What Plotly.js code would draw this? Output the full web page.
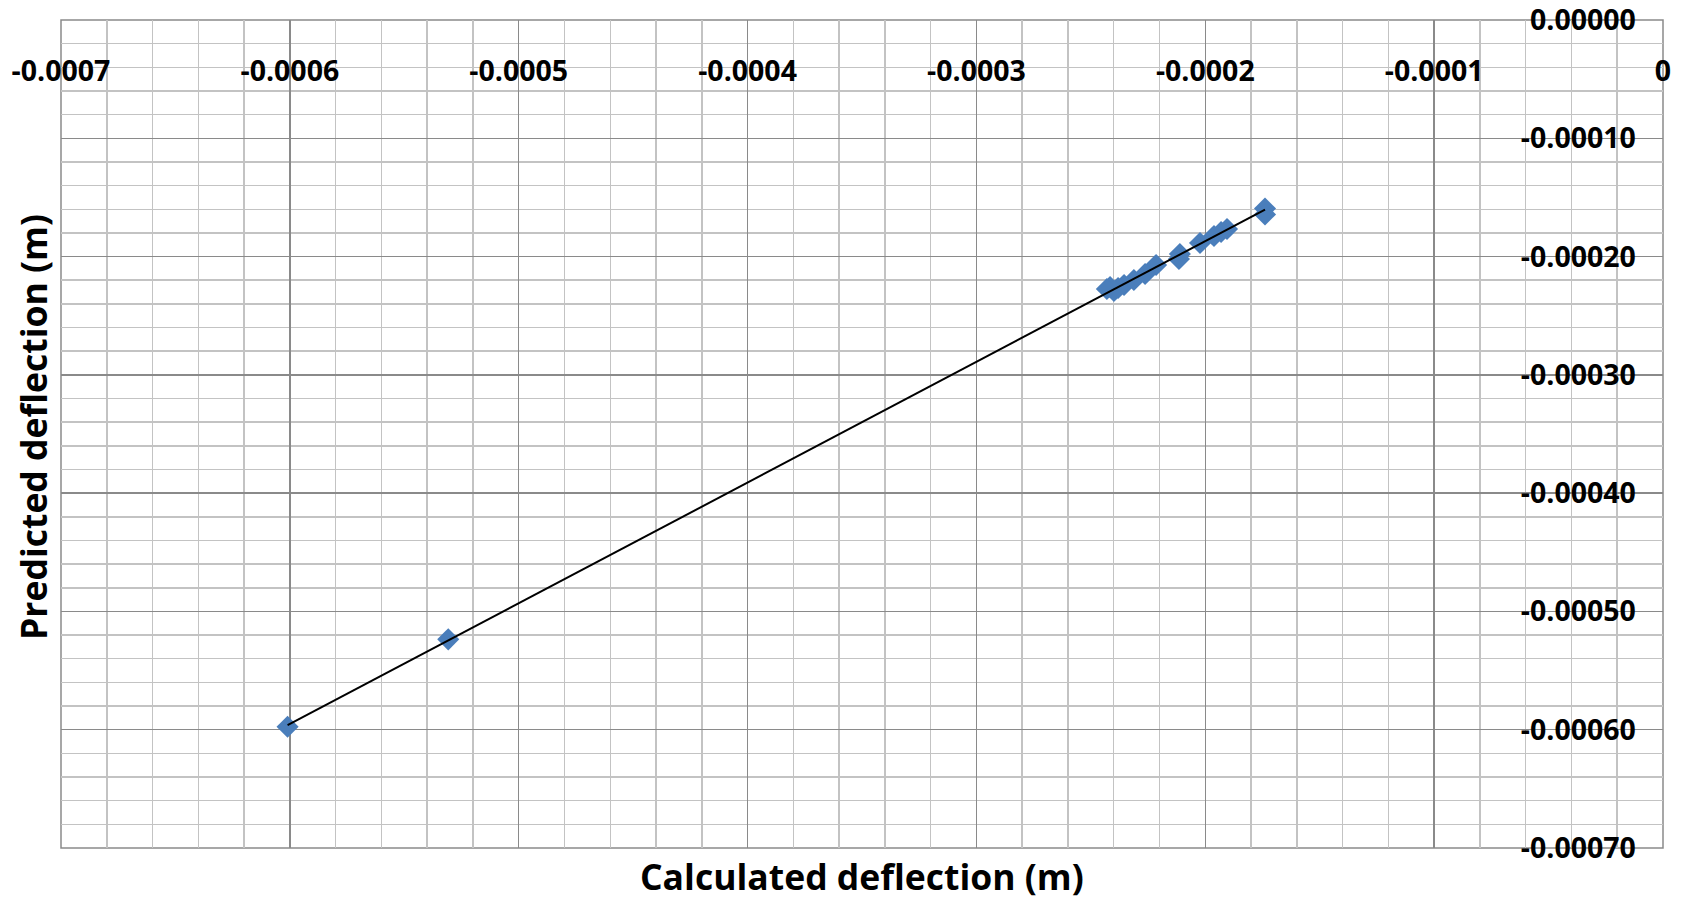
<!DOCTYPE html>
<html>
<head>
<meta charset="utf-8">
<script src="https://cdn.plot.ly/plotly-3.0.1.min.js"></script>
<style>html,body{margin:0;padding:0;background:#fff;}#chart{width:1686px;height:902px;}</style>
</head>
<body>
<div id="chart"></div>
<script>
// Calculated deflection (m) and predicted deflection (m)
const calculated = [-0.0001739, -0.0001739, -0.0001905, -0.0001931, -0.0001962, -0.0002023, -0.0002111, -0.0002115,
  -0.0002215, -0.0002263, -0.0002312, -0.0002355, -0.0002381, -0.0002416, -0.0002399, -0.0002430, -0.0005308, -0.0006010];
const predicted = [-0.0001594, -0.0001644, -0.0001767, -0.0001792, -0.0001826, -0.0001885, -0.0001978, -0.0002021,
  -0.0002071, -0.0002147, -0.0002198, -0.0002240, -0.0002266, -0.0002257, -0.0002291, -0.0002274, -0.0005236, -0.0005975];

const xTickVals = [-0.0007, -0.0006, -0.0005, -0.0004, -0.0003, -0.0002, -0.0001, 0];
const xTickText = ['-0.0007', '-0.0006', '-0.0005', '-0.0004', '-0.0003', '-0.0002', '-0.0001', '0'];
const yTickVals = [0, -0.0001, -0.0002, -0.0003, -0.0004, -0.0005, -0.0006, -0.0007];
const yTickText = ['0.00000', '-0.00010', '-0.00020', '-0.00030', '-0.00040', '-0.00050', '-0.00060', '-0.00070'];

const xTitle = 'Calculated deflection (m)';
const yTitle = 'Predicted deflection (m)';

// Linear trendline (least squares) over the data range
const n = calculated.length;
let sx = 0, sy = 0, sxx = 0, sxy = 0;
for (let i = 0; i < n; i++) { sx += calculated[i]; sy += predicted[i]; sxx += calculated[i] * calculated[i]; sxy += calculated[i] * predicted[i]; }
const slope = (n * sxy - sx * sy) / (n * sxx - sx * sx);
const intercept = (sy - slope * sx) / n;
const xMin = Math.min(...calculated), xMax = Math.max(...calculated);
const trendX = [xMin, xMax];
const trendY = trendX.map(v => slope * v + intercept);

const font = {family: 'Open Sans, sans-serif', color: '#000', weight: 700};

const traces = [
  {x: calculated, y: predicted, type: 'scatter', mode: 'markers',
   marker: {symbol: 'diamond', size: 17, color: '#4a7ebb', line: {width: 0}}, showlegend: false},
  {x: trendX, y: trendY, type: 'scatter', mode: 'lines', line: {color: '#000', width: 2}, hoverinfo: 'skip', showlegend: false}
];

const layout = {
  width: 1686, height: 902,
  margin: {l: 61, r: 23, t: 20, b: 54},
  paper_bgcolor: '#fff', plot_bgcolor: '#fff',
  showlegend: false,
  xaxis: {
    range: [-0.0007, 0], side: 'bottom', anchor: 'free', position: 0.9614,
    tickmode: 'array', tickvals: xTickVals, ticktext: xTickText,
    ticks: '', ticklen: 0, ticklabeloverflow: 'allow',
    tickfont: Object.assign({size: 28.5}, font),
    showgrid: true, gridcolor: '#8a8a8a', gridwidth: 1.5,
    minor: {tickmode: 'linear', tick0: 0, dtick: 0.00002, showgrid: true, gridcolor: '#c3c3c3', gridwidth: 1.5, ticks: ''},
    zeroline: false, showline: false,
    fixedrange: true
  },
  yaxis: {
    range: [-0.0007, 0], side: 'left', anchor: 'free', position: 0.9831,
    tickmode: 'array', tickvals: yTickVals, ticktext: yTickText,
    ticks: '', ticklen: 0, ticklabeloverflow: 'allow',
    tickfont: Object.assign({size: 28.5}, font),
    showgrid: true, gridcolor: '#8a8a8a', gridwidth: 1.5,
    minor: {tickmode: 'linear', tick0: 0, dtick: 0.00002, showgrid: true, gridcolor: '#c3c3c3', gridwidth: 1.5, ticks: ''},
    zeroline: false, showline: false,
    fixedrange: true
  },
  shapes: [
    {type: 'rect', xref: 'paper', yref: 'paper', x0: 0, x1: 1, y0: 0, y1: 1, layer: 'below',
     line: {color: '#8a8a8a', width: 1.5}, fillcolor: 'rgba(0,0,0,0)'}
  ],
  annotations: [
    {text: xTitle, xref: 'paper', yref: 'paper', x: 0.5, y: 0, xanchor: 'center', yanchor: 'middle', yshift: -28,
     showarrow: false, font: Object.assign({size: 35.5}, font)},
    {text: yTitle, xref: 'paper', yref: 'paper', x: 0, y: 0.5085, xanchor: 'center', yanchor: 'middle', xshift: -28,
     textangle: -90, showarrow: false, font: Object.assign({size: 35.5}, font)}
  ]
};

Plotly.newPlot('chart', traces, layout, {displayModeBar: false, staticPlot: true});
</script>
</body>
</html>
